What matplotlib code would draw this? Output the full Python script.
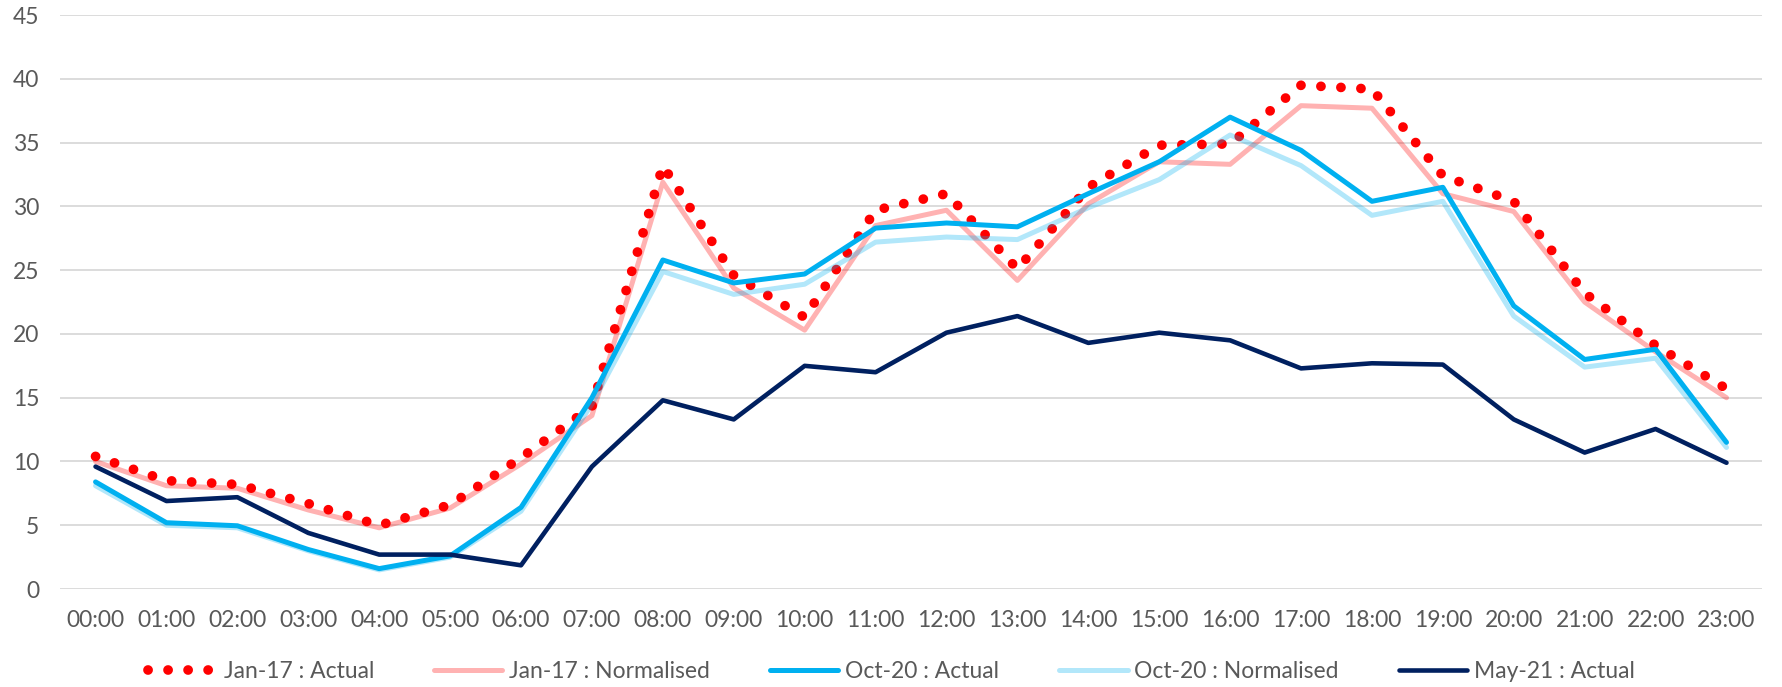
import numpy as np
import matplotlib
matplotlib.use("Agg")
import matplotlib.pyplot as plt

plt.rcParams['font.family'] = ['Lato', 'DejaVu Sans']

hours = ['%02d:00' % h for h in range(24)]

jan17_actual = [10.4, 8.5, 8.2, 6.7, 5.0, 6.6, 10.3, 14.3, 33.2, 24.6, 21.3, 29.7,
                31.0, 25.1, 31.5, 34.8, 34.9, 39.5, 39.2, 32.4, 30.4, 23.2, 19.1, 15.7]
jan17_norm = [10.0, 8.1, 7.9, 6.2, 4.8, 6.35, 9.8, 13.6, 31.9, 23.6, 20.3, 28.5,
              29.7, 24.2, 30.2, 33.5, 33.3, 37.9, 37.7, 31.0, 29.6, 22.5, 18.6, 15.0]
oct20_actual = [8.4, 5.2, 4.96, 3.1, 1.6, 2.6, 6.4, 15.0, 25.8, 24.0, 24.7, 28.3,
                28.7, 28.4, 31.0, 33.5, 37.0, 34.4, 30.4, 31.5, 22.2, 18.0, 18.8, 11.5]
oct20_norm = [8.1, 5.0, 4.8, 3.0, 1.5, 2.5, 6.1, 14.5, 24.9, 23.1, 23.9, 27.2,
              27.6, 27.4, 29.9, 32.1, 35.6, 33.2, 29.3, 30.4, 21.4, 17.4, 18.1, 11.1]
may21_actual = [9.6, 6.9, 7.2, 4.4, 2.7, 2.7, 1.86, 9.6, 14.8, 13.3, 17.5, 17.0,
                20.1, 21.4, 19.3, 20.1, 19.5, 17.3, 17.7, 17.6, 13.3, 10.7, 12.55, 9.9]

x = np.arange(len(hours))

fig = plt.figure(figsize=(17.83, 6.87), dpi=100)
ax = fig.add_axes([0.0337, 0.1426, 0.9545, 0.8354])

ax.plot(x, jan17_actual, color='#FF0000', lw=7, linestyle=(0, (0.01, 2.05)),
        dash_capstyle='round', label='Jan-17 : Actual')
ax.plot(x, jan17_norm, color='#FF0000', alpha=0.3, lw=3.6,
        solid_capstyle='round', label='Jan-17 : Normalised')
ax.plot(x, oct20_actual, color='#00B0F0', lw=3.6,
        solid_capstyle='round', label='Oct-20 : Actual')
ax.plot(x, oct20_norm, color='#00B0F0', alpha=0.3, lw=3.6,
        solid_capstyle='round', label='Oct-20 : Normalised')
ax.plot(x, may21_actual, color='#002060', lw=3.3,
        solid_capstyle='round', label='May-21 : Actual')

ax.set_xlim(-0.5, 23.5)
ax.set_ylim(0, 45)
ax.set_yticks(range(0, 46, 5))
ax.set_xticks(x)
ax.set_xticklabels(hours)
ax.grid(axis='y', color='#D9D9D9', lw=1.3)
ax.set_axisbelow(True)
for s in ax.spines.values():
    s.set_visible(False)
ax.tick_params(length=0, labelsize=16.5, colors='#595959', pad=15)
ax.tick_params(axis='x', pad=15)

fig.legend(loc='center', bbox_to_anchor=(0.5, 0.022), ncol=5, frameon=False,
           fontsize=16.5, labelcolor='#595959', handlelength=3.0,
           handletextpad=0.3, columnspacing=2.6)

fig.savefig('out.png', dpi=100)
